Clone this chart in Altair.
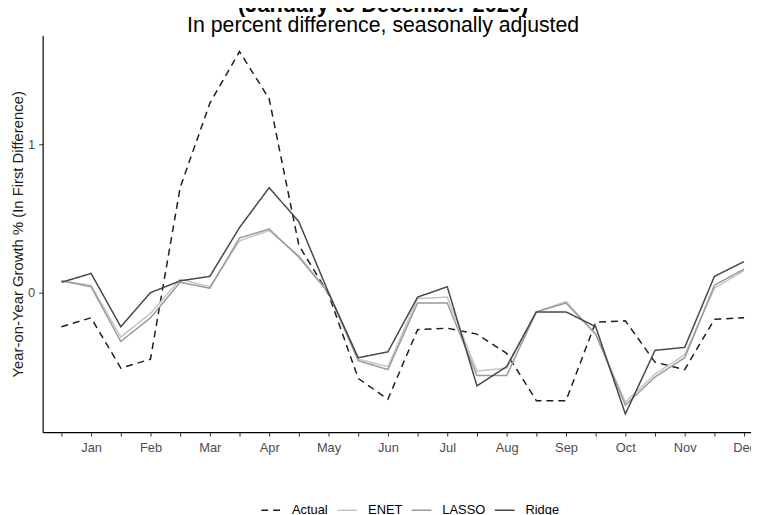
import altair as alt
import pandas as pd

months = ["Jan", "Feb", "Mar", "Apr", "May", "Jun", "Jul", "Aug", "Sep", "Oct", "Nov", "Dec"]
series_names = ["Actual", "ENET", "LASSO", "Ridge"]

actual = [-0.23, -0.17, -0.51, -0.45, 0.71, 1.28, 1.63, 1.31, 0.32, -0.01, -0.58, -0.72,
          -0.25, -0.24, -0.28, -0.41, -0.73, -0.73, -0.20, -0.19, -0.47, -0.52, -0.18, -0.17]
enet = [0.08, 0.05, -0.30, -0.14, 0.09, 0.04, 0.35, 0.42, 0.25, 0.00, -0.45, -0.50,
        -0.04, -0.03, -0.53, -0.51, -0.13, -0.06, -0.28, -0.74, -0.55, -0.42, 0.03, 0.15]
lasso = [0.08, 0.04, -0.33, -0.17, 0.07, 0.03, 0.37, 0.43, 0.24, 0.00, -0.46, -0.52,
         -0.07, -0.07, -0.56, -0.56, -0.13, -0.07, -0.28, -0.76, -0.57, -0.44, 0.05, 0.16]
ridge = [0.07, 0.13, -0.23, 0.00, 0.08, 0.11, 0.44, 0.71, 0.48, 0.00, -0.44, -0.40,
         -0.03, 0.04, -0.63, -0.50, -0.13, -0.13, -0.23, -0.82, -0.39, -0.37, 0.11, 0.21]

values = {"Actual": actual, "ENET": enet, "LASSO": lasso, "Ridge": ridge}
rows = []
for name in series_names:
    for i, v in enumerate(values[name]):
        rows.append({"idx": i, "value": v, "series": name})
df = pd.DataFrame(rows)

tick_labels = ["" if i % 2 == 0 else months[i // 2] for i in range(len(actual))]
label_expr = "[" + ",".join("'" + t + "'" for t in tick_labels) + "][datum.value]"

colors = ["#1e1e1e", "#c4c4c4", "#9a9a9a", "#474747"]
dashes = [[7, 5], [1, 0], [1, 0], [1, 0]]

font = "Liberation Sans"

chart = alt.Chart(df).mark_line(strokeWidth=1.5).encode(
    x=alt.X("idx:Q",
            scale=alt.Scale(domain=[-0.633, 23.233], nice=False, zero=False),
            axis=alt.Axis(values=list(range(len(actual))), labelExpr=label_expr,
                          title=None, grid=False, tickSize=4, labelPadding=6,
                          labelFontSize=13, labelColor="#4d4d4d", tickColor="#333333",
                          domainColor="#000000", domainWidth=1.2, labelFont=font,
                          labelFlush=False, labelOverlap=False)),
    y=alt.Y("value:Q",
            scale=alt.Scale(domain=[-0.943, 1.739], nice=False, zero=False),
            axis=alt.Axis(values=[0, 1], format="d", grid=False, tickSize=4, labelPadding=4,
                          labelFontSize=13, labelColor="#4d4d4d", tickColor="#333333",
                          domainColor="#000000", domainWidth=1.2, labelFont=font,
                          title="Year-on-Year Growth % (In First Difference)",
                          titleFontSize=15, titleFontWeight="normal", titleFont=font,
                          titleColor="#1a1a1a", titlePadding=2)),
    color=alt.Color("series:N",
                    scale=alt.Scale(domain=series_names, range=colors),
                    legend=alt.Legend(title=None)),
    strokeDash=alt.StrokeDash("series:N",
                              scale=alt.Scale(domain=series_names, range=dashes),
                              legend=alt.Legend(title=None)),
    order=alt.Order("idx:Q"),
).properties(
    width=716,
    height=401,
    autosize=alt.AutoSizeParams(type="none"),
    padding={"left": 35, "top": 25, "right": 0, "bottom": 81},
    title=alt.TitleParams(
        text="(January to December 2020)",
        subtitle="In percent difference, seasonally adjusted",
        fontSize=22, fontWeight="bold", font=font, color="#000000",
        subtitleFontSize=21.5, subtitleFont=font, subtitleColor="#000000",
        anchor="middle", frame="bounds", offset=-2, subtitlePadding=-2,
    ),
).configure_view(stroke=None).configure_legend(
    orient="none", legendX=220, legendY=469, direction="horizontal",
    symbolType="stroke", symbolSize=400, symbolStrokeWidth=1.5,
    labelFontSize=13, labelFont=font, labelColor="#000000", labelOffset=10,
    columnPadding=6,
)

chart.save("out.html", embed_options={"renderer": "svg", "actions": False})
